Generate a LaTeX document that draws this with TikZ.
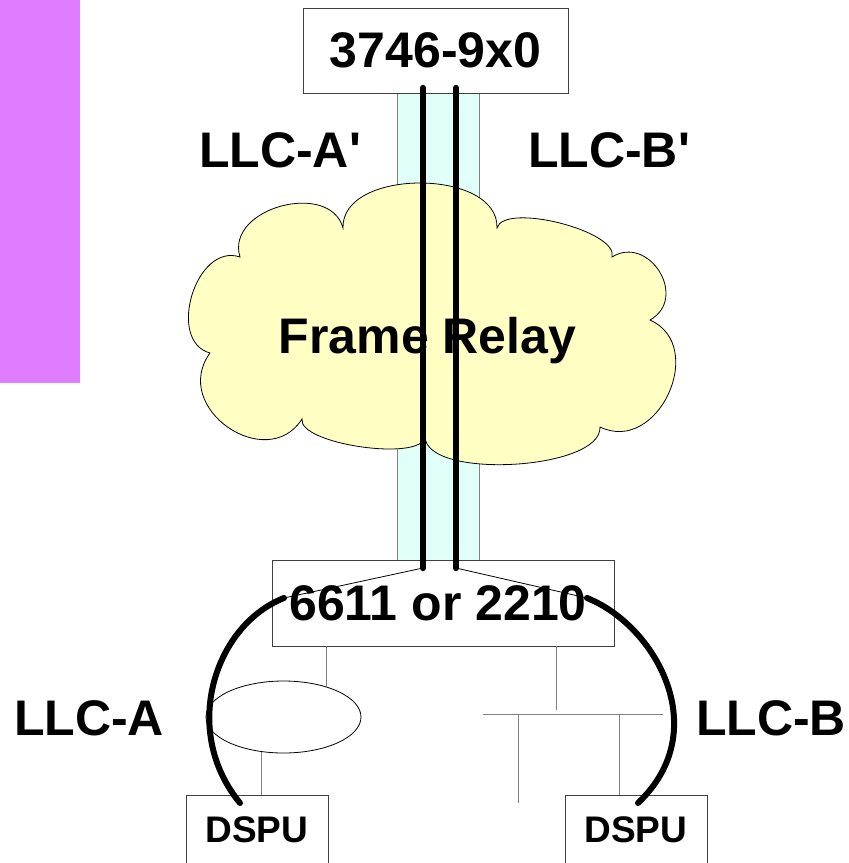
\documentclass[tikz,border=0pt]{standalone}
\usepackage{fontspec}
\setmainfont{Liberation Sans}[Ligatures=TeXOff]
\usepackage{xcolor}
\usepackage{tikz}
\usetikzlibrary{shapes.geometric}
\definecolor{orchid}{HTML}{E07CFF}
\definecolor{paleaqua}{HTML}{E0FFF8}
\definecolor{cloudfill}{HTML}{FFFFC4}
\definecolor{wiregray}{HTML}{808080}

\begin{document}
\begin{tikzpicture}[x=1pt,y=-1pt,
  box/.style={draw=black!75,fill=white,line width=0.8pt,inner sep=0pt},
  big/.style={font=\fontsize{50}{60}\selectfont\bfseries},
  lbl/.style={big,anchor=base,inner sep=0pt},
  link/.style={line width=6.5pt,line cap=round},
  hook/.style={line width=6pt,line cap=round},
  wire/.style={draw=wiregray,line width=1pt}]
\clip (0,0) rectangle (849,863);
\fill[orchid] (0,0) rectangle (80,383);
\filldraw[fill=paleaqua,draw=wiregray,line width=0.8pt] (397,93) rectangle (479,560);
\node[box,big,minimum width=265pt,minimum height=85pt] (fep) at (435.5,50.5) {3746-9x0};
\node[box,big,minimum width=342pt,minimum height=86pt] (rtr) at (443,603) {\kern-10pt6611 or 2210};
% frame relay cloud
\filldraw[fill=cloudfill,draw=black,line width=0.8pt]
  (343,228) .. controls (341,168) and (499,168) .. (497,228)
  .. controls (504,202) and (619,231) .. (612,257)
  .. controls (649,234) and (689,298) .. (650,320)
  .. controls (708,346) and (658,455) .. (600,427)
  .. controls (602,470) and (427,480) .. (425,437)
  .. controls (421,462) and (298,444) .. (302,419)
  .. controls (267,474) and (170,408) .. (210,353)
  .. controls (166,341) and (196,242) .. (240,257)
  .. controls (225,208) and (330,180) .. (343,228) -- cycle;
\node[lbl] (frtext) at (427.5,353) {Frame Relay};
\node[lbl] (llcAp) at (280,167) {LLC-A'};
\node[lbl] (llcBp) at (609,167) {LLC-B'};
\node[lbl] (llcA) at (89,735) {LLC-A};
\node[lbl] (llcB) at (771,735) {LLC-B};
% end stations
\node[box,font=\fontsize{37}{44}\selectfont\bfseries,minimum width=142pt,minimum height=70pt] (dspuA) at (257,830) {DSPU};
\node[box,font=\fontsize{37}{44}\selectfont\bfseries,minimum width=142pt,minimum height=70pt] (dspuB) at (636,830) {DSPU};
\node[draw,ellipse,minimum width=155pt,minimum height=72pt,inner sep=0pt,line width=0.8pt] (ring) at (283.5,717) {};
\draw[wire] (rtr.south -| ring.35) -- (ring.35);
\draw[wire] (ring.238) -- (ring.238 |- dspuA.north);
\coordinate (tapB) at (556,710);
\coordinate (busL) at (483,714);
\coordinate (busR) at (663,714);
\coordinate (dropA) at (518,803);
\coordinate (dropB) at (619,795);
\draw[wire] (rtr.south -| tapB) -- (tapB);
\draw[wire] (busL) -- (busR);
\draw[wire] (busL -| dropA) -- (dropA);
\draw[wire] (busL -| dropB) -- (dropB);
% logical links
\coordinate (a1) at (423,88);
\coordinate (a2) at (423,568);
\coordinate (b1) at (456,88);
\coordinate (b2) at (456,568);
\coordinate (aL) at (284,598);
\coordinate (aR) at (587,598);
\coordinate (eA) at (240,803);
\coordinate (eB) at (638,803);
\draw[link] (a1) -- (a2);
\draw[link] (b1) -- (b2);
\draw[line width=0.8pt] (a2) -- (aL);
\draw[line width=0.8pt] (b2) -- (aR);
\draw[hook] (aL) .. controls (215,625) and (180,730) .. (eA);
\draw[hook] (aR) .. controls (655,625) and (715,730) .. (eB);
\end{tikzpicture}
\end{document}
